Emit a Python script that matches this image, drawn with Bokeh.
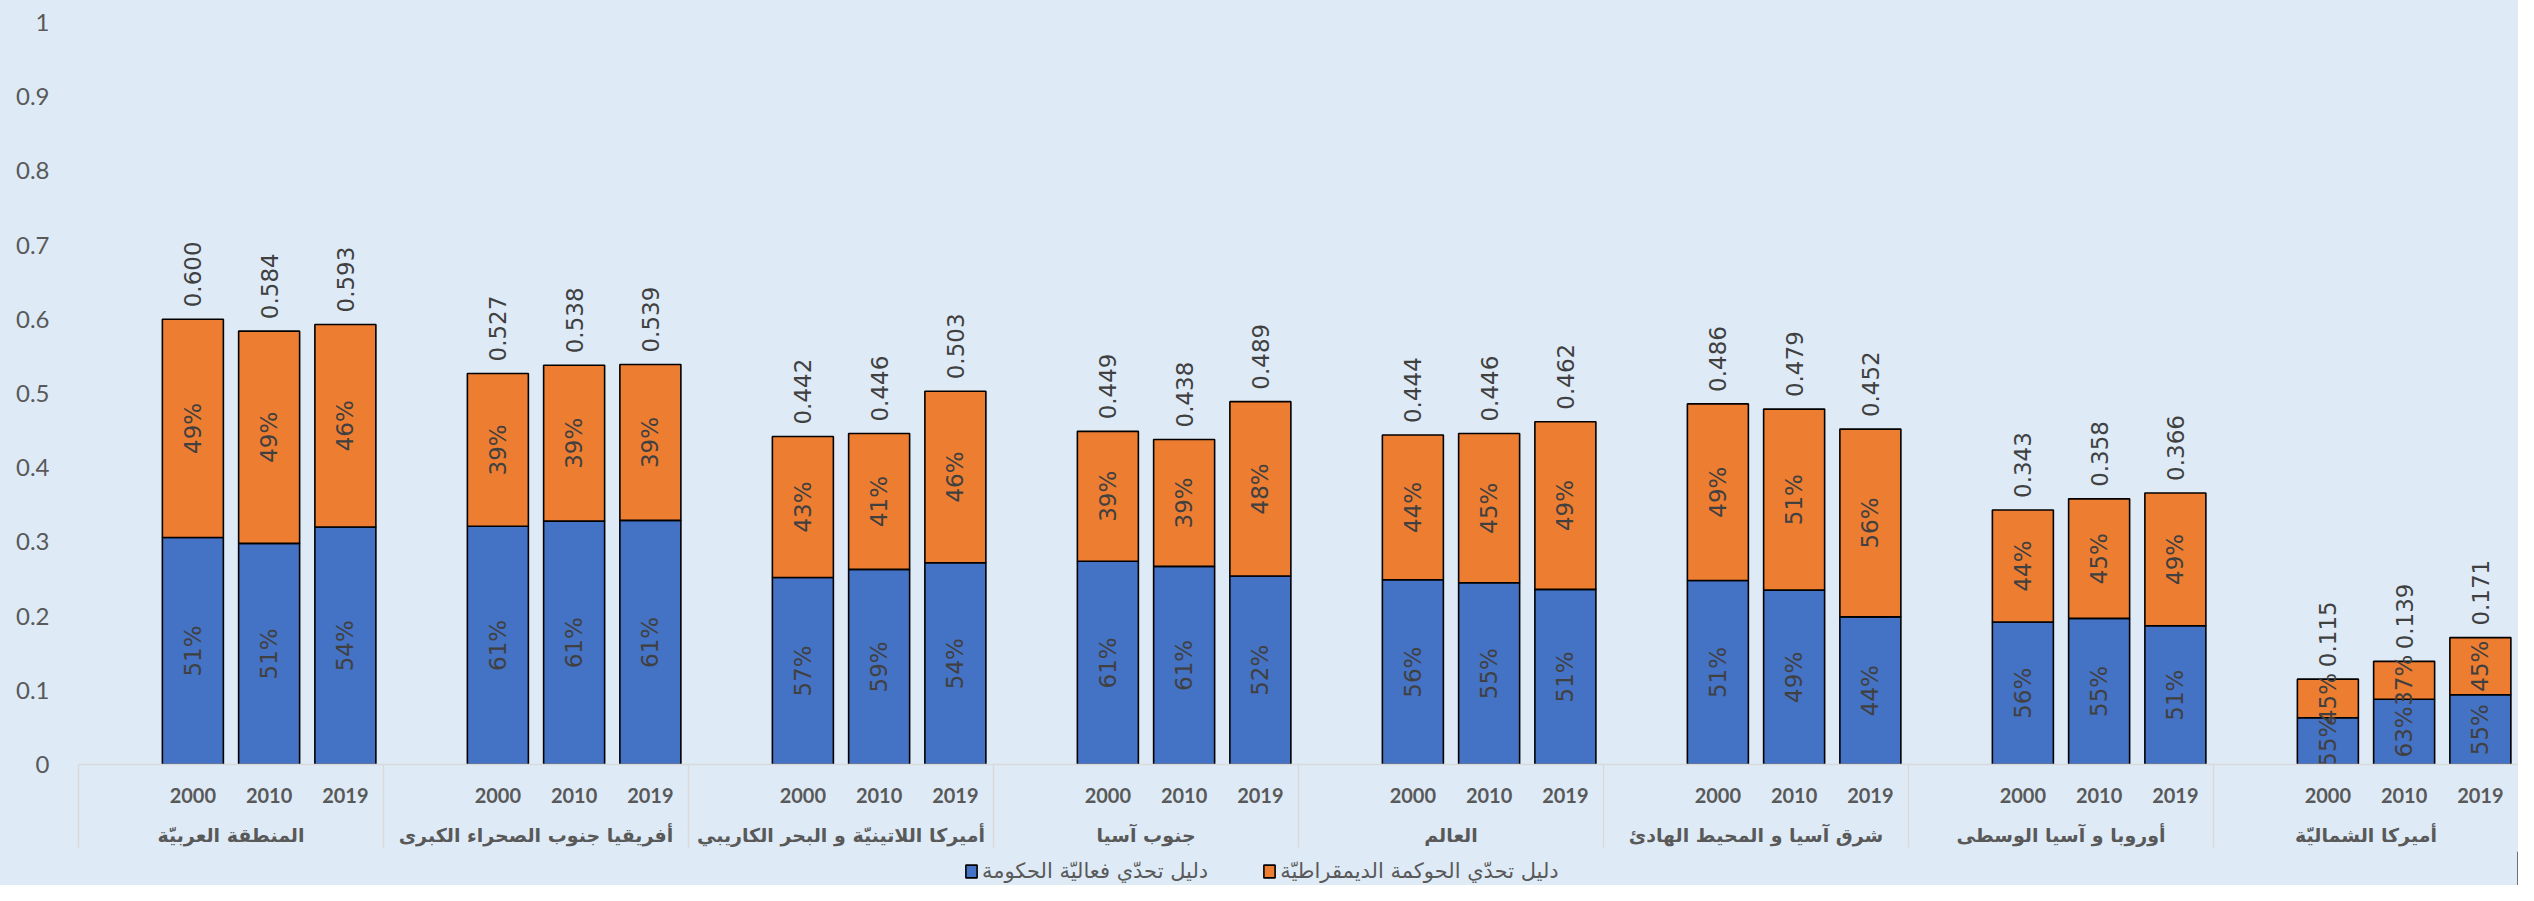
from bokeh.plotting import figure
from bokeh.layouts import column
from bokeh.models import (ColumnDataSource, Range1d, LinearAxis, FixedTicker, Legend,
                          LegendItem, NumeralTickFormatter)
from bokeh.core.properties import value
from bokeh.embed import file_html
from bokeh.resources import INLINE

# ---------------- data ----------------
regions = ["المنطقة العربيّة", "أفريقيا جنوب الصحراء الكبرى",
           "أميركا اللاتينيّة و البحر الكاريبي", "جنوب آسيا", "العالم",
           "شرق آسيا و المحيط الهادئ", "أوروبا و آسيا الوسطى", "أميركا الشماليّة"]
years = ["2000", "2010", "2019"]

# total index (top of stacked bar)
totals = [[0.600, 0.584, 0.593],
          [0.527, 0.538, 0.539],
          [0.442, 0.446, 0.503],
          [0.449, 0.438, 0.489],
          [0.444, 0.446, 0.462],
          [0.486, 0.479, 0.452],
          [0.343, 0.358, 0.366],
          [0.115, 0.139, 0.171]]
# government-effectiveness component (blue, bottom)
gov_values = [[0.306, 0.298, 0.320],
              [0.321, 0.328, 0.329],
              [0.252, 0.263, 0.272],
              [0.274, 0.267, 0.254],
              [0.249, 0.245, 0.236],
              [0.248, 0.235, 0.199],
              [0.192, 0.197, 0.187],
              [0.063, 0.088, 0.094]]
gov_share = [[51, 51, 54], [61, 61, 61], [57, 59, 54], [61, 61, 52],
             [56, 55, 51], [51, 49, 44], [56, 55, 51], [55, 63, 55]]
dem_share = [[49, 49, 46], [39, 39, 39], [43, 41, 46], [39, 39, 48],
             [44, 45, 49], [49, 51, 56], [44, 45, 49], [45, 37, 45]]
series_names = ["دليل تحدّي فعاليّة الحكومة", "دليل تحدّي الحوكمة الديمقراطيّة"]
y_ticks = [0, 0.1, 0.2, 0.3, 0.4, 0.5, 0.6, 0.7, 0.8, 0.9, 1]

BLUE = "#4472C4"
ORANGE = "#ED7D31"
BG = "#DEEBF7"
GREY_TXT = "#595959"
LBL_TXT = "#404040"
SLOTS = 4  # one empty slot + three years per region
W = 2518

# ---------------- source ----------------
xs, tot, gov, gmid, dmid, glab, dlab, tlab = [], [], [], [], [], [], [], []
for g in range(len(regions)):
    for k in range(len(years)):
        xs.append(g * SLOTS + 1 + k)
        t = totals[g][k]
        b = gov_values[g][k]
        tot.append(t)
        gov.append(b)
        gmid.append(b / 2)
        dmid.append((b + t) / 2)
        glab.append(f"{gov_share[g][k]}%")
        dlab.append(f"{dem_share[g][k]}%")
        tlab.append(f"{t:.3f}")
src = ColumnDataSource(dict(x=xs, tot=tot, gov=gov, gmid=gmid, dmid=dmid,
                            glab=glab, dlab=dlab, tlab=tlab))

n_slots = len(regions) * SLOTS
p = figure(width=W, height=851, output_backend="svg", toolbar_location=None,
           x_range=Range1d(-0.5, n_slots - 0.5), y_range=Range1d(0, 1),
           x_axis_type=None, min_border_left=78, min_border_right=0,
           min_border_top=22, min_border_bottom=87,
           background_fill_color=BG, border_fill_color=BG, outline_line_color=None,
           styles={"background-color": BG})
p.xgrid.visible = False
p.ygrid.visible = False

# y axis
ya = p.yaxis[0]
ya.ticker = FixedTicker(ticks=y_ticks)
ya.formatter = NumeralTickFormatter(format="0.[0]")
ya.axis_line_color = None
ya.major_tick_line_color = None
ya.minor_tick_line_color = None
ya.major_label_text_font = "Lato"
ya.major_label_text_font_size = "24px"
ya.major_label_text_color = GREY_TXT
ya.major_label_standoff = 23

bar_style = dict(width=0.8, line_color="black", line_width=1.6)
r_gov = p.vbar(x="x", bottom=0, top="gov", source=src, fill_color=BLUE, **bar_style)
r_dem = p.vbar(x="x", bottom="gov", top="tot", source=src, fill_color=ORANGE, **bar_style)

# labels
common = dict(angle=1.5708, text_font=value("DejaVu Sans"), text_font_size="23px",
              text_color=LBL_TXT, source=src)
p.text(x="x", y="gmid", text="glab", text_align="center", text_baseline="middle", **common)
p.text(x="x", y="dmid", text="dlab", text_align="center", text_baseline="middle", **common)
p.text(x="x", y="tot", text="tlab", text_align="left", text_baseline="middle",
       x_offset=0, y_offset=-12, **common)

# x axis: years + group separators
year_over = {x: years[i % 3] for i, x in enumerate(xs)}
bounds = [g * SLOTS - 0.5 for g in range(len(regions) + 1)]
ax_year = LinearAxis(ticker=FixedTicker(ticks=xs, minor_ticks=bounds),
                     major_label_overrides=year_over)
ax_year.axis_line_color = "#D9D9D9"
ax_year.axis_line_width = 1.5
ax_year.major_tick_line_color = None
ax_year.minor_tick_line_color = "#D9D9D9"
ax_year.minor_tick_line_width = 1.5
ax_year.minor_tick_in = 0
ax_year.minor_tick_out = 83
ax_year.major_label_text_font = "Lato"
ax_year.major_label_text_font_style = "bold"
ax_year.major_label_text_font_size = "20px"
ax_year.major_label_text_color = GREY_TXT
ax_year.major_label_standoff = -60
p.add_layout(ax_year, "below")

grp_ticks = [g * SLOTS + 1.5 for g in range(len(regions))]
ax_grp = LinearAxis(ticker=FixedTicker(ticks=grp_ticks, minor_ticks=[]),
                    major_label_overrides={t: regions[i] for i, t in enumerate(grp_ticks)})
ax_grp.axis_line_color = None
ax_grp.major_tick_line_color = None
ax_grp.minor_tick_line_color = None
ax_grp.major_label_text_font = "DejaVu Sans"
ax_grp.major_label_text_font_style = "bold"
ax_grp.major_label_text_font_size = "19px"
ax_grp.major_label_text_color = GREY_TXT
ax_grp.major_label_standoff = 12
p.add_layout(ax_grp, "below")

# legend strip: renderers carrying the bar styles, placed outside its view
legend_src = ColumnDataSource(dict(x=[50], top=[1]))
p2 = figure(width=W, height=34, output_backend="svg", toolbar_location=None,
            x_range=Range1d(0, 1), y_range=Range1d(0, 1),
            x_axis_type=None, y_axis_type=None, min_border=0,
            background_fill_color=BG, border_fill_color=BG, outline_line_color=None,
            styles={"background-color": BG})
p2.xgrid.visible = False
p2.ygrid.visible = False
l_gov = p2.vbar(x="x", bottom=0, top="top", source=legend_src, fill_color=BLUE, **bar_style)
l_dem = p2.vbar(x="x", bottom=0, top="top", source=legend_src, fill_color=ORANGE, **bar_style)
legend = Legend(items=[LegendItem(label=series_names[0], renderers=[l_gov]),
                       LegendItem(label=series_names[1], renderers=[l_dem])],
                orientation="horizontal", location=(886, 2),
                label_text_font="DejaVu Sans", label_text_font_size="21px",
                label_text_color=GREY_TXT, glyph_width=14, glyph_height=16,
                label_standoff=4, spacing=54, padding=0, margin=0,
                border_line_color=None, background_fill_alpha=0)
p2.add_layout(legend)

layout = column(p, p2, spacing=0, styles={"background-color": BG})
html = file_html(layout, INLINE)
html = html.replace("<body>", f'<body style="background-color:{BG};">', 1)
open("out.html", "w").write(html)
